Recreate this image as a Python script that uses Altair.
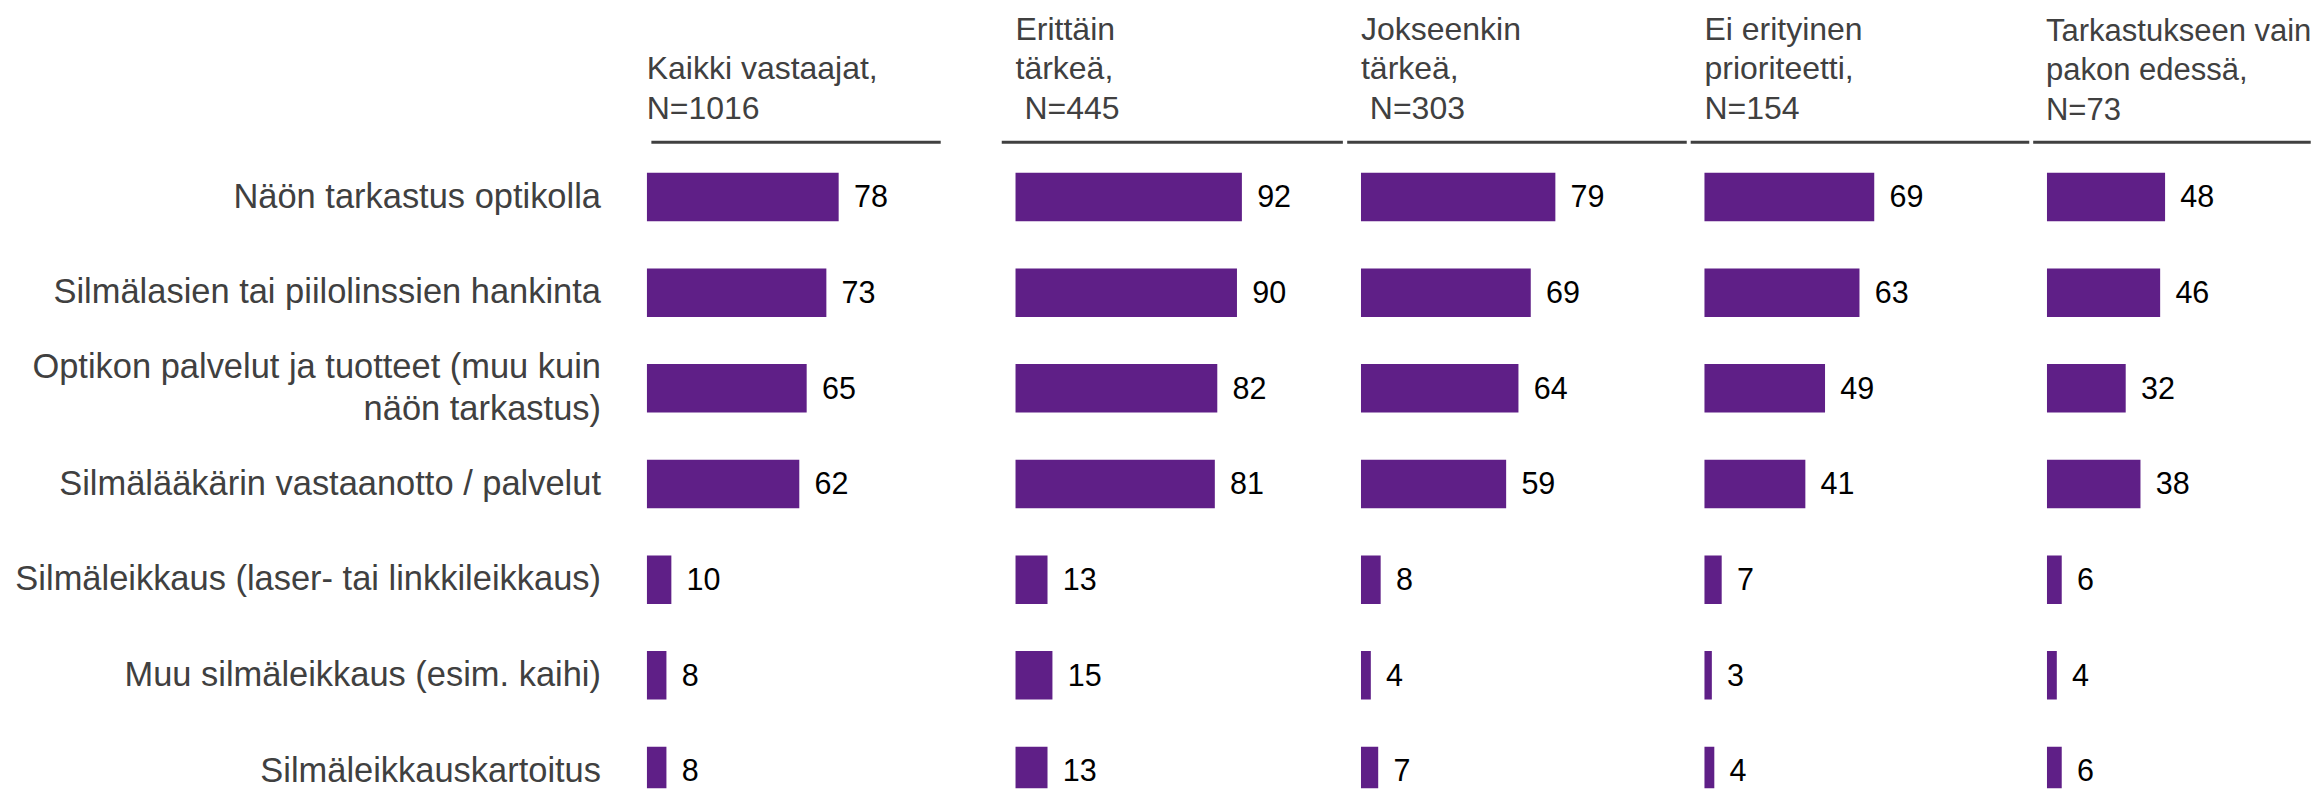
import altair as alt
import pandas as pd

FONT = "Liberation Sans"
GRAY = "#404040"
PURPLE = "#5f1f87"

items = [
    "Näön tarkastus optikolla",
    "Silmälasien tai piilolinssien hankinta",
    "Optikon palvelut ja tuotteet (muu kuin|näön tarkastus)",
    "Silmälääkärin vastaanotto / palvelut",
    "Silmäleikkaus (laser- tai linkkileikkaus)",
    "Muu silmäleikkaus (esim. kaihi)",
    "Silmäleikkauskartoitus",
]

headers = [
    ["Kaikki vastaajat,", "N=1016"],
    ["Erittäin", "tärkeä,", "\u200b\u00a0N=445"],
    ["Jokseenkin", "tärkeä,", "\u200b\u00a0N=303"],
    ["Ei erityinen", "prioriteetti,", "N=154"],
    ["Tarkastukseen vain", "pakon edessä,", "N=73"],
]

kaikki = [78, 73, 65, 62, 10, 8, 8]
erittain = [92, 90, 82, 81, 13, 15, 13]
jokseenkin = [79, 69, 64, 59, 8, 4, 7]
ei_erityinen = [69, 63, 49, 41, 7, 3, 4]
pakon_edessa = [48, 46, 32, 38, 6, 4, 6]

PX = 2.5             # pixels per percentage point
STEP = 97.2          # row step
BW = 49.3            # bar thickness
TOP = 31             # rule to first bar
PI = 1 - BW / STEP
RANGE = TOP + 6 * STEP + BW
PO = (TOP / 2) / STEP
H = 656.3            # visible plot height (last row is cut, as in the original)


def panel(vals, header, width, lead, rule_start, rule_end, title_dx,
          title_size=32.5, first=False):
    df = pd.DataFrame({"item": items, "v": vals})
    xscale = alt.Scale(domain=[-lead / PX, (width - lead) / PX], nice=False, zero=False)
    if first:
        yaxis = alt.Axis(
            title=None, labelFontSize=35, labelFont=FONT, labelColor=GRAY,
            labelPadding=47, ticks=False, domain=False, labelLimit=900,
            minExtent=639, maxExtent=639,
            labelExpr="split(datum.label, '|')", labelLineHeight=43,
            labelOffset={"condition": {"test": "indexof(datum.value, '|') >= 0",
                                       "value": -21.5}, "value": 0},
        )
    else:
        yaxis = None
    y = alt.Y("item:N", sort=items, title=None, axis=yaxis,
              scale=alt.Scale(range=[0, RANGE], paddingInner=PI,
                              paddingOuter=PO, align=1))
    x = alt.X("v:Q", scale=xscale, axis=None, title=None)

    base = alt.Chart(df)
    bars = base.mark_bar(color=PURPLE, clip=True).encode(x=x, y=y)
    texts = base.mark_text(align="left", baseline="middle", dx=15.5, dy=1.5,
                           fontSize=31, font=FONT, color="#000000").encode(
        x=x, y=y, text=alt.Text("v:Q"))
    rule = alt.Chart(pd.DataFrame({"r": [0]})).mark_rule(
        color=GRAY, strokeWidth=3).encode(
        x=alt.value(rule_start), x2=alt.value(rule_end), y=alt.value(0))
    return alt.layer(bars, texts, rule).properties(
        width=width, height=H,
        title=alt.TitleParams(
            text=header, anchor="start", orient="top", frame="group",
            baseline="bottom", offset=-17, lineHeight=40, fontSize=title_size,
            font=FONT, color=GRAY, fontWeight="normal", dx=title_dx,
        ),
    )


p1 = panel(kaikki, headers[0], 298.7, 0, 4.7, 298.7, 0, first=True)
p2 = panel(erittain, headers[1], 342.6, 12, -2, 344.6, 12)
p3 = panel(jokseenkin, headers[2], 341, 12, -2, 343, 12)
p4 = panel(ei_erityinen, headers[3], 340, 12, -2, 342, 12)
p5 = panel(pakon_edessa, headers[4], 280, 12, -2, 280, 11, title_size=31.5)

chart = alt.hconcat(
    p1, alt.hconcat(p2, p3, p4, p5, spacing=0), spacing=57.7
).properties(
    padding={"left": 6, "top": 0, "right": 0, "bottom": 0}
).configure_view(strokeWidth=0)

chart.save("out.html", embed_options={"renderer": "svg", "actions": False})
